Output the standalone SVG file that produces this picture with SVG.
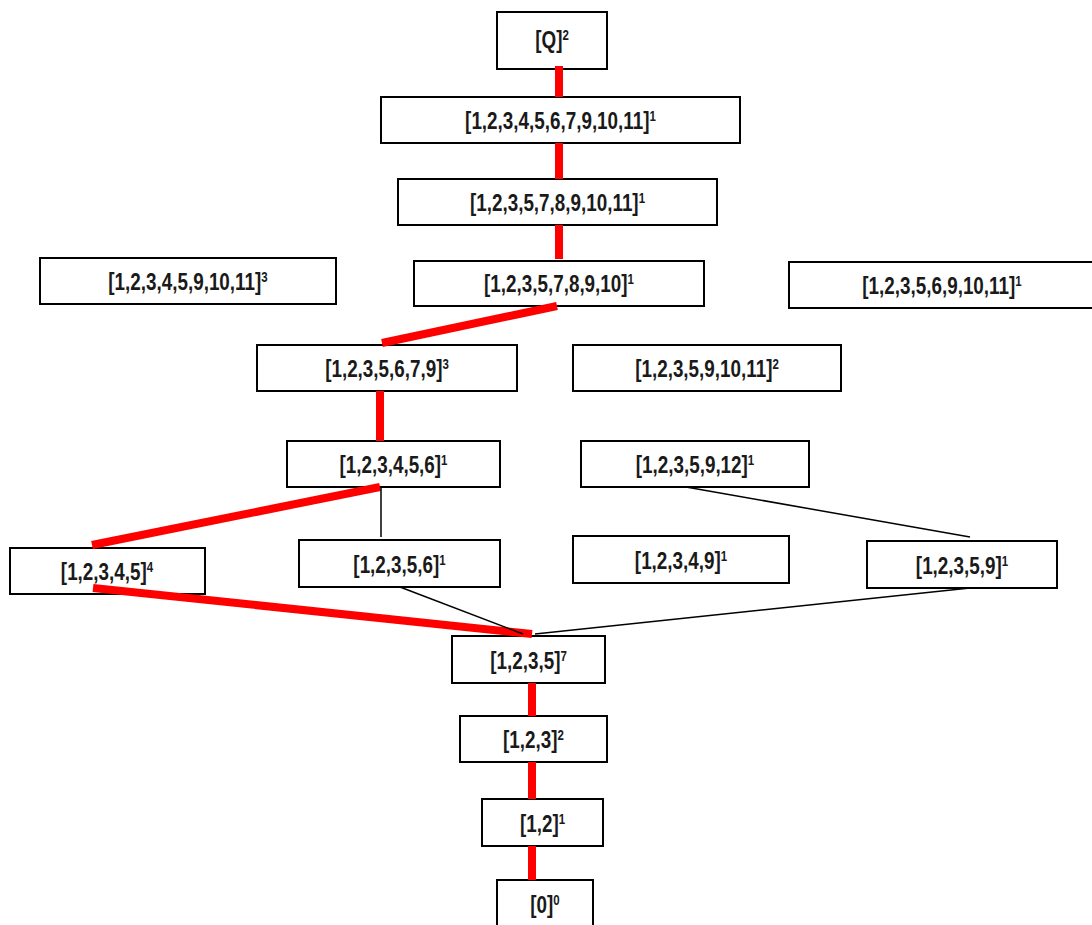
<svg xmlns="http://www.w3.org/2000/svg" width="1092" height="925" viewBox="0 0 1092 925">
  <style>
    .box rect { fill: #fff; stroke: #000; stroke-width: 2; }
    .box text { font-family: "Liberation Sans", Arial, sans-serif; font-weight: bold; font-size: 23px; fill: #1a1a1a; text-anchor: middle; }
    .sup { font-size: 14px; }
    .path { stroke: #ff0000; stroke-width: 8; fill: none; }
    .link { stroke: #000; stroke-width: 1.5; fill: none; }
  </style>
  <rect width="1092" height="925" fill="#fff"/>

  <!-- labels use a bold sans squeezed horizontally to a narrow face -->
  <g id="n-q" class="box"><rect x="497" y="12" width="110" height="57"/><text transform="translate(552 48) scale(0.82 1)">[Q]<tspan class="sup" dy="-8">2</tspan></text></g>
  <g id="n-123456791011" class="box"><rect x="381" y="97" width="359" height="46"/><text transform="translate(560.5 129) scale(0.82 1)">[1,2,3,4,5,6,7,9,10,11]<tspan class="sup" dy="-8">1</tspan></text></g>
  <g id="n-12357891011" class="box"><rect x="398" y="179" width="319" height="46"/><text transform="translate(557.5 211) scale(0.82 1)">[1,2,3,5,7,8,9,10,11]<tspan class="sup" dy="-8">1</tspan></text></g>
  <g id="n-123578910" class="box"><rect x="414" y="261" width="290" height="45"/><text transform="translate(559 292) scale(0.82 1)">[1,2,3,5,7,8,9,10]<tspan class="sup" dy="-8">1</tspan></text></g>
  <g id="n-1234591011" class="box"><rect x="40" y="258" width="296" height="46"/><text transform="translate(188 290) scale(0.82 1)">[1,2,3,4,5,9,10,11]<tspan class="sup" dy="-8">3</tspan></text></g>
  <g id="n-1235691011" class="box"><rect x="789" y="262" width="310" height="46"/><text transform="translate(942 294) scale(0.82 1)">[1,2,3,5,6,9,10,11]<tspan class="sup" dy="-8">1</tspan></text></g>
  <g id="n-1235679" class="box"><rect x="257" y="345" width="260" height="46"/><text transform="translate(387 377) scale(0.82 1)">[1,2,3,5,6,7,9]<tspan class="sup" dy="-8">3</tspan></text></g>
  <g id="n-123591011" class="box"><rect x="573" y="345" width="268" height="46"/><text transform="translate(707 377) scale(0.82 1)">[1,2,3,5,9,10,11]<tspan class="sup" dy="-8">2</tspan></text></g>
  <g id="n-123456" class="box"><rect x="287" y="441" width="213" height="46"/><text transform="translate(393.5 473) scale(0.82 1)">[1,2,3,4,5,6]<tspan class="sup" dy="-8">1</tspan></text></g>
  <g id="n-1235912" class="box"><rect x="581" y="441" width="228" height="46"/><text transform="translate(695 473) scale(0.82 1)">[1,2,3,5,9,12]<tspan class="sup" dy="-8">1</tspan></text></g>
  <g id="n-12345" class="box"><rect x="10" y="548" width="195" height="46"/><text transform="translate(107 580) scale(0.82 1)">[1,2,3,4,5]<tspan class="sup" dy="-8">4</tspan></text></g>
  <g id="n-12356" class="box"><rect x="299" y="540" width="201" height="47"/><text transform="translate(399.5 573) scale(0.82 1)">[1,2,3,5,6]<tspan class="sup" dy="-8">1</tspan></text></g>
  <g id="n-12349" class="box"><rect x="573" y="536" width="216" height="47"/><text transform="translate(681 569) scale(0.82 1)">[1,2,3,4,9]<tspan class="sup" dy="-8">1</tspan></text></g>
  <g id="n-12359" class="box"><rect x="867" y="541" width="190" height="47"/><text transform="translate(962 574) scale(0.82 1)">[1,2,3,5,9]<tspan class="sup" dy="-8">1</tspan></text></g>
  <g id="n-1235" class="box"><rect x="452" y="636" width="153" height="47"/><text transform="translate(528.5 669) scale(0.82 1)">[1,2,3,5]<tspan class="sup" dy="-8">7</tspan></text></g>
  <g id="n-123" class="box"><rect x="460" y="716" width="147" height="46"/><text transform="translate(533.5 748) scale(0.82 1)">[1,2,3]<tspan class="sup" dy="-8">2</tspan></text></g>
  <g id="n-12" class="box"><rect x="482" y="799" width="121" height="47"/><text transform="translate(542.5 832) scale(0.82 1)">[1,2]<tspan class="sup" dy="-8">1</tspan></text></g>
  <g id="n-0" class="box"><rect x="497" y="880" width="96" height="52"/><text transform="translate(545 913) scale(0.82 1)">[0]<tspan class="sup" dy="-8">0</tspan></text></g>

  <!-- connectors, drawn over the box borders: red marks the highlighted chain, black the other links -->
  <g id="connectors">
    <line class="path" x1="559" y1="66" x2="559" y2="97"/>
    <line class="path" x1="559" y1="143" x2="559" y2="179"/>
    <line class="path" x1="559" y1="225" x2="559" y2="259"/>
    <line class="path" x1="557" y1="306" x2="382" y2="343"/>
    <line class="path" x1="380" y1="391" x2="380" y2="441"/>
    <line class="path" x1="380" y1="487" x2="92" y2="545"/>
    <line class="path" x1="93" y1="588" x2="532" y2="634"/>
    <line class="path" x1="532" y1="683" x2="532" y2="716"/>
    <line class="path" x1="532" y1="762" x2="532" y2="799"/>
    <line class="path" x1="532" y1="846" x2="532" y2="880"/>
    <line class="link" x1="381" y1="487" x2="381" y2="537"/>
    <line class="link" x1="686" y1="487" x2="970" y2="537"/>
    <line class="link" x1="400" y1="587" x2="523" y2="634"/>
    <line class="link" x1="970" y1="588" x2="535" y2="634"/>
  </g>
</svg>
